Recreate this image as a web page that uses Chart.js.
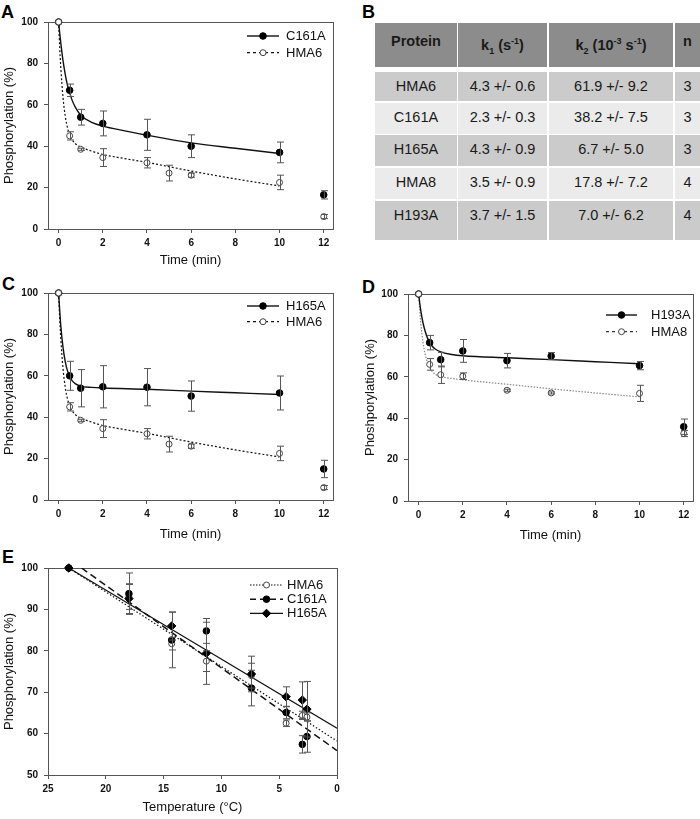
<!DOCTYPE html>
<html>
<head>
<meta charset="utf-8">
<script src="https://cdn.jsdelivr.net/npm/chart.js@4.4.1/dist/chart.umd.min.js"></script>
<style>
  body { margin: 0; width: 700px; height: 819px; position: relative; overflow: hidden; background: #fff;
         font-family: 'Liberation Sans', Arial, sans-serif; }
  canvas { position: absolute; }
  .label { position: absolute; font-weight: bold; font-size: 18px; line-height: 18px; color: #000; }
  .cell { position: absolute; box-sizing: border-box; text-align: center; color: #1a1a1a; font-size: 14.5px; white-space: nowrap; overflow: hidden; }
  .head { background: #8c8c8c; font-weight: bold; line-height: 37px; }
  .dark { background: #cbcbcb; line-height: 28px; }
  .light { background: #ebebeb; line-height: 28px; }
  sub, sup { font-size: 9px; }
</style>
</head>
<body>
<div class="label" style="left:1px;top:3px">A</div>
<div class="label" style="left:362px;top:3px">B</div>
<div class="label" style="left:2px;top:275px">C</div>
<div class="label" style="left:362px;top:278px">D</div>
<div class="label" style="left:2px;top:548px">E</div>

<canvas id="chartA" width="350" height="270" style="left:0;top:0"></canvas>
<canvas id="chartC" width="350" height="280" style="left:0;top:270px"></canvas>
<canvas id="chartD" width="350" height="280" style="left:350px;top:270px"></canvas>
<canvas id="chartE" width="350" height="269" style="left:0;top:550px"></canvas>
<div id="table"></div>

<script>
// ---- table B ----
const proteins = ['HMA6', 'C161A', 'H165A', 'HMA8', 'H193A'];
const k1Values = ['4.3 +/- 0.6', '2.3 +/- 0.3', '4.3 +/- 0.9', '3.5 +/- 0.9', '3.7 +/- 1.5'];
const k2Values = ['61.9 +/- 9.2', '38.2 +/- 7.5', '6.7 +/- 5.0', '17.8 +/- 7.2', '7.0 +/- 6.2'];
const nValues = ['3', '3', '3', '4', '4'];
const tableHeaders = ['Protein', 'k<sub>1</sub> (s<sup>-1</sup>)', 'k<sub>2</sub> (10<sup>-3</sup> s<sup>-1</sup>)', 'n'];

// ---- panel A / C (HMA6 shared) ----
const timeC161A = [0, 0.5, 1, 2, 4, 6, 10, 12];
const c161A = [100, 67, 54, 51, 45.5, 40, 37, 16.5];
const c161AErr = [0, 3, 3.8, 6, 7.5, 5.5, 5, 2];
const fitTimeC161A = [0, 0.05, 0.1, 0.2, 0.3, 0.4, 0.5, 0.6, 0.75, 1, 1.5, 2, 3, 4, 6, 8, 10];
const fitC161A = [100, 94.6, 89.8, 81.3, 74.7, 69.5, 66, 62.5, 59, 55, 51.5, 49.7, 47.4, 45.3, 41.6, 39, 36.5];

const timeHMA6 = [0, 0.5, 1, 2, 4, 5, 6, 10, 12];
const hma6 = [100, 45, 38.5, 34.5, 32, 27, 26, 22.5, 6];
const hma6Err = [0, 2, 0.5, 4.3, 2.5, 3.8, 1, 3.5, 1];
const fitTimeHMA6 = [0, 0.05, 0.1, 0.2, 0.3, 0.4, 0.5, 0.6, 0.75, 1, 1.5, 2, 3, 4, 6, 8, 10];
const fitHMA6 = [100, 87.5, 78, 63.5, 54.5, 49, 45.5, 43.3, 41.3, 39.6, 37.6, 36, 34, 32.2, 28, 24.2, 20.8];

const timeH165A = [0, 0.5, 1, 2, 4, 6, 10, 12];
const h165A = [100, 60, 54, 54.7, 54.5, 50.2, 51.7, 15];
const h165AErr = [0, 7, 9, 10.2, 9, 7.3, 8.2, 4.2];
const fitTimeH165A = [0, 0.05, 0.1, 0.2, 0.3, 0.4, 0.5, 0.6, 0.75, 1, 1.5, 2, 4, 6, 8, 10];
const fitH165A = [100, 91.5, 84, 73.7, 66.9, 62.5, 59.7, 57.8, 56.2, 55, 54.4, 54.1, 53.5, 52.6, 51.8, 51];

// ---- panel D ----
const timeH193A = [0, 0.5, 1, 2, 4, 6, 10, 12];
const h193A = [100, 76.5, 68.3, 72.5, 67.8, 70, 65.4, 35.9];
const h193AErr = [0, 3.5, 3.5, 5.5, 3.5, 1.7, 2, 3.7];
const fitTimeH193A = [0, 0.05, 0.1, 0.2, 0.3, 0.4, 0.5, 0.6, 0.75, 1, 1.5, 2, 4, 6, 8, 10];
const fitH193A = [100, 95.7, 91.8, 86, 81.9, 78.8, 76.6, 75, 73.4, 72, 70.8, 70.2, 69.2, 68.3, 67.3, 66.3];

const timeHMA8 = [0, 0.5, 1, 2, 4, 6, 10, 12];
const hma8 = [100, 66, 61, 60.3, 53.5, 52.2, 52, 32.6];
const hma8Err = [0, 2.8, 4.2, 1.6, 0.5, 0.5, 3.9, 1.5];
const fitTimeHMA8 = [0, 0.05, 0.1, 0.2, 0.3, 0.4, 0.5, 0.6, 0.75, 1, 1.5, 2, 4, 6, 8, 10];
const fitHMA8 = [100, 92.4, 85.8, 76.6, 70.7, 66.9, 64.5, 62.8, 61.3, 60.1, 59.2, 58.5, 56.4, 54.2, 52.2, 50.3];

const timeTicks = [0, 2, 4, 6, 8, 10, 12];
const percentTicks = [0, 20, 40, 60, 80, 100];

// ---- panel E ----
const temps = [23.2, 18, 14.3, 11.3, 7.4, 4.4, 3.0, 2.6];
const hma6Temp = [100, 93, 81.7, 77.5, 74, 62.5, 64.4, 64];
const hma6TempErr = [0, 3, 1.5, 2.5, 3, 0.8, 1, 1];
const c161ATemp = [100, 93.8, 82.6, 84.8, 71, 65.1, 57.4, 59.3];
const c161ATempErr = [0, 5, 6.7, 3, 4.3, 1.5, 2.1, 3.8];
const h165ATemp = [100, 92.6, 86, 79.4, 74.4, 68.9, 68.1, 65.9];
const h165ATempErr = [0, 3.6, 3.4, 7.5, 4.3, 2.4, 4.4, 6.7];
const lineTempHMA6 = [23.2, 0], lineHMA6 = [100, 58.2];
const lineTempC161A = [22.1, 0], lineC161A = [100, 55.9];
const lineTempH165A = [23.2, 0], lineH165A = [100, 61.3];
const tempTicks = [25, 20, 15, 10, 5, 0];
const tempPercentTicks = [50, 60, 70, 80, 90, 100];

const FONT = "'Liberation Sans', Arial, sans-serif";
const FILLED = { shape: 'circle', r: 3.3, fill: '#000', stroke: '#000' };
const OPEN = { shape: 'circle', r: 3, fill: '#fff', stroke: '#444' };
const DIAMOND = { shape: 'rectRot', r: 4.2, fill: '#000', stroke: '#000' };

// build table
const colX = [375, 458, 549, 675], colW = [82, 89, 124, 25];
const rowY = [23, 72, 103, 135, 168, 201], rowH = [44, 29, 31, 31, 31, 39];
const tableEl = document.getElementById('table');
function addCell(html, r, c, cls) {
    const d = document.createElement('div');
    d.className = 'cell ' + cls;
    d.style.left = colX[c] + 'px';
    d.style.top = rowY[r] + 'px';
    d.style.width = colW[c] + 'px';
    d.style.height = rowH[r] + 'px';
    d.innerHTML = html;
    tableEl.appendChild(d);
}
tableHeaders.forEach((h, c) => addCell(h, 0, c, 'head'));
proteins.forEach((p, i) => {
    const cls = i % 2 === 0 ? 'dark' : 'light';
    [p, k1Values[i], k2Values[i], nValues[i]].forEach((v, c) => addCell(v, i + 1, c, cls));
});

// plugins
const frame = {
    id: 'frame',
    beforeDatasetsDraw(chart) {
        const { ctx, chartArea: a } = chart;
        ctx.save();
        ctx.strokeStyle = '#555';
        ctx.lineWidth = 1;
        ctx.strokeRect(Math.round(a.left) + 0.5, Math.round(a.top) + 0.5,
            Math.round(a.right - a.left), Math.round(a.bottom - a.top));
        ctx.restore();
    }
};

const errorBars = {
    id: 'errorBars',
    afterDatasetsDraw(chart) {
        const ctx = chart.ctx;
        const ys = chart.scales.y;
        chart.data.datasets.forEach((ds, i) => {
            if (!ds.errors) return;
            const meta = chart.getDatasetMeta(i);
            ctx.save();
            ctx.strokeStyle = '#555';
            ctx.lineWidth = 1;
            meta.data.forEach((pt, j) => {
                const e = ds.errors[j];
                if (!e) return;
                const v = ds.data[j].y;
                const top = ys.getPixelForValue(v + e);
                const bot = ys.getPixelForValue(v - e);
                const x = Math.round(pt.x) + 0.5;
                ctx.beginPath();
                ctx.moveTo(x, top); ctx.lineTo(x, bot);
                ctx.moveTo(x - 3.5, top); ctx.lineTo(x + 3.5, top);
                ctx.moveTo(x - 3.5, bot); ctx.lineTo(x + 3.5, bot);
                ctx.stroke();
            });
            ctx.restore();
        });
    }
};

function drawMarker(ctx, m, x, y) {
    ctx.save();
    ctx.fillStyle = m.fill;
    ctx.strokeStyle = m.stroke;
    ctx.lineWidth = 1;
    ctx.setLineDash([]);
    ctx.beginPath();
    if (m.shape === 'rectRot') {
        ctx.moveTo(x, y - m.r); ctx.lineTo(x + m.r, y); ctx.lineTo(x, y + m.r); ctx.lineTo(x - m.r, y);
        ctx.closePath();
    } else {
        ctx.arc(x, y, m.r, 0, Math.PI * 2);
    }
    ctx.fill();
    ctx.stroke();
    ctx.restore();
}

const lineLegend = {
    id: 'lineLegend',
    afterDraw(chart, args, opts) {
        const ctx = chart.ctx;
        opts.items.forEach((it, i) => {
            const y = opts.y + i * opts.dy;
            ctx.save();
            ctx.strokeStyle = it.color;
            ctx.lineWidth = it.width;
            ctx.setLineDash(it.dash);
            ctx.beginPath();
            ctx.moveTo(opts.x, y);
            ctx.lineTo(opts.x + opts.len, y);
            ctx.stroke();
            ctx.restore();
            drawMarker(ctx, it.marker, opts.x + opts.len / 2, y);
            ctx.save();
            ctx.fillStyle = '#111';
            ctx.font = '13px ' + FONT;
            ctx.textBaseline = 'middle';
            ctx.fillText(it.label, opts.textX, y + 0.5);
            ctx.restore();
        });
    }
};

function buildChart(id, series, ax, legend) {
    const datasets = [];
    series.forEach(s => {
        datasets.push({
            label: s.label,
            data: s.x.map((v, j) => ({ x: v, y: s.y[j] })),
            errors: s.err,
            pointStyle: s.marker.shape,
            pointRadius: s.marker.r,
            pointHoverRadius: s.marker.r,
            pointBackgroundColor: s.marker.fill,
            pointBorderColor: s.marker.stroke,
            pointBorderWidth: 1,
            showLine: false,
            clip: false,
            order: s.order
        });
        datasets.push({
            label: s.label + ' fit',
            data: s.fitX.map((v, j) => ({ x: v, y: s.fitY[j] })),
            showLine: true,
            pointRadius: 0,
            borderColor: s.lineColor,
            borderWidth: s.lineWidth,
            borderDash: s.dash,
            cubicInterpolationMode: 'monotone',
            fill: false,
            order: 10
        });
    });

    return new Chart(document.getElementById(id), {
        type: 'scatter',
        data: { datasets: datasets },
        plugins: [frame, errorBars, lineLegend],
        options: {
            responsive: false,
            animation: false,
            events: [],
            layout: { padding: { left: 0, top: ax.top, right: ax.right, bottom: 0 } },
            plugins: {
                legend: { display: false },
                tooltip: { enabled: false },
                lineLegend: {
                    x: legend.x, len: legend.len, textX: legend.textX, y: legend.y, dy: legend.dy,
                    items: series.map(s => ({
                        label: s.label, marker: s.marker, color: s.legendColor || s.lineColor,
                        width: s.lineWidth, dash: s.legendDash
                    }))
                }
            },
            scales: {
                x: {
                    type: 'linear',
                    min: ax.xMin, max: ax.xMax, reverse: !!ax.xReverse,
                    afterBuildTicks: s => { s.ticks = ax.xTicks.map(v => ({ value: v })); },
                    afterFit: s => { s.height = ax.xHeight; s.paddingLeft = 0; s.paddingRight = 0; },
                    grid: { drawOnChartArea: false, tickLength: 4, color: '#555' },
                    border: { display: false },
                    ticks: { font: { size: 10, weight: 'bold', family: FONT }, color: '#111', padding: 4, maxRotation: 0, autoSkip: false },
                    title: { display: true, text: ax.xTitle, font: { size: 13, family: FONT }, color: '#111', padding: { top: 0, bottom: ax.xTitlePad } }
                },
                y: {
                    min: ax.yMin, max: ax.yMax,
                    afterBuildTicks: s => { s.ticks = ax.yTicks.map(v => ({ value: v })); },
                    afterFit: s => { s.width = ax.yWidth; s.paddingTop = 0; s.paddingBottom = 0; },
                    grid: { drawOnChartArea: false, tickLength: 4, color: '#555' },
                    border: { display: false },
                    ticks: { font: { size: 10, weight: 'bold', family: FONT }, color: '#111', padding: 6, autoSkip: false },
                    title: { display: true, text: ax.yTitle, font: { size: 13, family: FONT }, color: '#111', padding: { top: ax.yTitlePad, bottom: 0 } }
                }
            }
        }
    });
}

const hma6Series = {
    label: 'HMA6', x: timeHMA6, y: hma6, err: hma6Err, fitX: fitTimeHMA6, fitY: fitHMA6,
    marker: OPEN, lineColor: '#111', lineWidth: 1.2, dash: [2, 2], legendDash: [3, 3], order: 0
};

const timeAxes = {
    xMin: -0.48, xMax: 12.42, xTicks: timeTicks, yMin: 0, yMax: 100, yTicks: percentTicks,
    xTitle: 'Time (min)', yTitle: 'Phosphorylation (%)', right: 17, yWidth: 48, yTitlePad: 2
};

buildChart('chartA', [
    { label: 'C161A', x: timeC161A, y: c161A, err: c161AErr, fitX: fitTimeC161A, fitY: fitC161A,
      marker: FILLED, lineColor: '#111', lineWidth: 1.4, dash: [], legendDash: [], order: 1 },
    hma6Series
], Object.assign({}, timeAxes, { top: 22, xHeight: 41, xTitlePad: 2 }),
   { x: 247, len: 32, textX: 286, y: 36, dy: 16.7 });

buildChart('chartC', [
    { label: 'H165A', x: timeH165A, y: h165A, err: h165AErr, fitX: fitTimeH165A, fitY: fitH165A,
      marker: FILLED, lineColor: '#111', lineWidth: 1.4, dash: [], legendDash: [], order: 1 },
    hma6Series
], Object.assign({}, timeAxes, { top: 23, xHeight: 50, xTitlePad: 8 }),
   { x: 247, len: 32, textX: 286, y: 36, dy: 15.7 });

buildChart('chartD', [
    { label: 'H193A', x: timeH193A, y: h193A, err: h193AErr, fitX: fitTimeH193A, fitY: fitH193A,
      marker: FILLED, lineColor: '#111', lineWidth: 1.4, dash: [], legendDash: [], order: 1 },
    { label: 'HMA8', x: timeHMA8, y: hma8, err: hma8Err, fitX: fitTimeHMA8, fitY: fitHMA8,
      marker: OPEN, lineColor: '#888', legendColor: '#333', lineWidth: 1.2, dash: [1.5, 1.5], legendDash: [3, 3], order: 0 }
], Object.assign({}, timeAxes, { top: 24, right: 7, yWidth: 58, yTitlePad: 13, xHeight: 49, xTitlePad: 7,
    yTitle: 'Phoshporylation (%)' }),
   { x: 256, len: 31, textX: 301, y: 45, dy: 16.7 });

buildChart('chartE', [
    { label: 'HMA6', x: temps, y: hma6Temp, err: hma6TempErr, fitX: lineTempHMA6, fitY: lineHMA6,
      marker: OPEN, lineColor: '#111', lineWidth: 1.2, dash: [1.5, 2], legendDash: [1.5, 1.5], order: 2 },
    { label: 'C161A', x: temps, y: c161ATemp, err: c161ATempErr, fitX: lineTempC161A, fitY: lineC161A,
      marker: FILLED, lineColor: '#111', lineWidth: 1.5, dash: [7, 4], legendDash: [6, 4], order: 1 },
    { label: 'H165A', x: temps, y: h165ATemp, err: h165ATempErr, fitX: lineTempH165A, fitY: lineH165A,
      marker: DIAMOND, lineColor: '#111', lineWidth: 1.2, dash: [], legendDash: [], order: 0 }
], { xMin: 0, xMax: 25, xReverse: true, xTicks: tempTicks, yMin: 50, yMax: 100, yTicks: tempPercentTicks,
     xTitle: 'Temperature (°C)', yTitle: 'Phosphorylation (%)', top: 18, right: 13, yWidth: 48, yTitlePad: 2,
     xHeight: 44, xTitlePad: 4 },
   { x: 250, len: 33, textX: 287, y: 35, dy: 14.2 });
</script>
</body>
</html>
